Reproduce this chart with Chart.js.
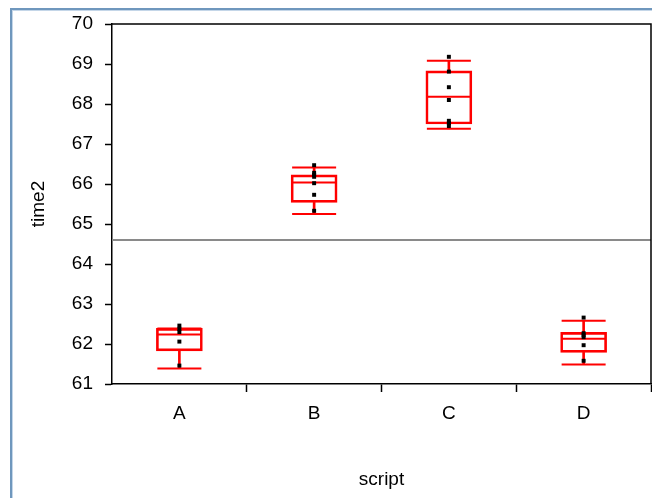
<!DOCTYPE html>
<html>
<head>
<meta charset="utf-8">
<script src="https://cdn.jsdelivr.net/npm/chart.js@4"></script>
<style>
  html, body { margin: 0; padding: 0; background: #fff; }
  #wrap { width: 652px; height: 498px; }
</style>
</head>
<body>
<div id="wrap"><canvas id="chart" width="652" height="498"></canvas></div>
<script>
// data
const categories = ['A', 'B', 'C', 'D'];
const pointsA = [62.46, 62.38, 62.30, 62.06, 61.46];
const pointsB = [66.47, 66.28, 66.23, 66.18, 66.02, 65.73, 65.33];
const pointsC = [69.18, 68.81, 68.42, 68.10, 67.58, 67.52, 67.45];
const pointsD = [62.66, 62.27, 62.22, 62.17, 61.97, 61.58];

const whiskerLow  = [61.39, 65.25, 67.38, 61.49];
const quart1      = [61.83, 65.54, 67.50, 61.79];
const medians     = [62.24, 66.04, 68.18, 62.13];
const quart3      = [62.39, 66.23, 68.83, 62.29];
const whiskerHigh = [62.39, 66.41, 69.08, 62.58];

const grandMean = 64.6;
const yMin = 61, yMax = 70;

const RED = '#ff0000';
const FONT = 'Liberation Sans, Arial, sans-serif';

var allPoints = [];
[pointsA, pointsB, pointsC, pointsD].forEach(function(list, i) {
    list.forEach(function(v) { allPoints.push({ x: categories[i], y: v }); });
});

// blue window frame, plot frame and grand mean line
const framePlugin = {
    id: 'frame',
    beforeDraw(chart) {
        const ctx = chart.ctx;
        ctx.save();
        ctx.fillStyle = '#fff';
        ctx.fillRect(0, 0, chart.width, chart.height);
        ctx.fillStyle = '#6f97bd';
        ctx.fillRect(10, 8, chart.width - 10, 2);
        ctx.fillRect(10, 8, 2, chart.height - 8);
        ctx.fillStyle = '#c4d6e8';
        ctx.fillRect(12, 10, chart.width - 12, 1);
        ctx.fillRect(12, 10, 1, chart.height - 10);
        ctx.restore();
    },
    beforeDatasetsDraw(chart) {
        const ctx = chart.ctx, a = chart.chartArea;
        const y = chart.scales.y.getPixelForValue(grandMean);
        ctx.save();
        ctx.strokeStyle = '#8a8a8a';
        ctx.lineWidth = 2;
        ctx.beginPath();
        ctx.moveTo(a.left, y);
        ctx.lineTo(a.right, y);
        ctx.stroke();
        ctx.restore();
    },
    afterDraw(chart) {
        const ctx = chart.ctx, a = chart.chartArea;
        ctx.save();
        ctx.strokeStyle = '#000';
        ctx.lineWidth = 1.5;
        ctx.beginPath();
        ctx.moveTo(a.left, a.top);
        ctx.lineTo(a.right, a.top);
        ctx.lineTo(a.right, a.bottom);
        ctx.stroke();
        ctx.restore();
    }
};

new Chart(document.getElementById('chart'), {
    data: {
        labels: categories,
        datasets: [
            {
                type: 'line',
                data: allPoints,
                showLine: false,
                pointStyle: 'rect',
                pointRadius: 2.8,
                pointBackgroundColor: '#000',
                pointBorderWidth: 0
            },
            {
                type: 'line',
                data: medians,
                showLine: false,
                pointStyle: 'line',
                pointRadius: 22,
                pointBorderColor: RED,
                pointBorderWidth: 2
            },
            {
                type: 'line',
                data: whiskerHigh,
                showLine: false,
                pointStyle: 'line',
                pointRadius: 22,
                pointBorderColor: RED,
                pointBorderWidth: 2
            },
            {
                type: 'line',
                data: whiskerLow,
                showLine: false,
                pointStyle: 'line',
                pointRadius: 22,
                pointBorderColor: RED,
                pointBorderWidth: 2
            },
            {
                type: 'bar',
                data: categories.map(function(c, i) { return [quart1[i], quart3[i]]; }),
                backgroundColor: 'rgba(0,0,0,0)',
                borderColor: RED,
                borderWidth: 2,
                borderSkipped: false,
                barThickness: 46,
                grouped: false
            },
            {
                type: 'bar',
                data: categories.map(function(c, i) { return [quart3[i], whiskerHigh[i]]; }),
                backgroundColor: RED,
                borderWidth: 0,
                barThickness: 2,
                grouped: false
            },
            {
                type: 'bar',
                data: categories.map(function(c, i) { return [whiskerLow[i], quart1[i]]; }),
                backgroundColor: RED,
                borderWidth: 0,
                barThickness: 2,
                grouped: false
            }
        ]
    },
    options: {
        responsive: false,
        animation: false,
        events: [],
        layout: { autoPadding: false, padding: { top: 24, right: 1, bottom: 0, left: 0 } },
        plugins: {
            legend: { display: false },
            tooltip: { enabled: false }
        },
        scales: {
            x: {
                type: 'category',
                offset: true,
                afterFit: function(scale) {
                    scale.height = 114;
                    scale.paddingLeft = 0;
                    scale.paddingRight = 0;
                },
                grid: {
                    offset: true,
                    drawOnChartArea: false,
                    tickLength: 8,
                    tickWidth: 1.5,
                    tickColor: function(ctx) {
                        return (ctx.index === 0 || ctx.index === categories.length) ? 'rgba(0,0,0,0)' : '#000';
                    }
                },
                border: { color: '#000', width: 1.5 },
                ticks: { color: '#000', padding: 10, font: { family: FONT, size: 19 } },
                title: {
                    display: true,
                    text: 'script',
                    color: '#000',
                    font: { family: FONT, size: 19 },
                    padding: { top: 0, bottom: 7 }
                }
            },
            y: {
                min: yMin,
                max: yMax,
                afterFit: function(scale) {
                    scale.width = 112;
                    scale.paddingTop = 0;
                    scale.paddingBottom = 0;
                },
                grid: {
                    drawOnChartArea: false,
                    tickLength: 7,
                    tickWidth: 1.5,
                    color: '#000'
                },
                border: { color: '#000', width: 1.5 },
                ticks: { stepSize: 1, color: '#000', padding: 12, font: { family: FONT, size: 19 } },
                title: {
                    display: true,
                    text: 'time2',
                    color: '#000',
                    font: { family: FONT, size: 19 },
                    padding: { top: 27, bottom: 0 }
                }
            }
        }
    },
    plugins: [framePlugin]
});
</script>
</body>
</html>
